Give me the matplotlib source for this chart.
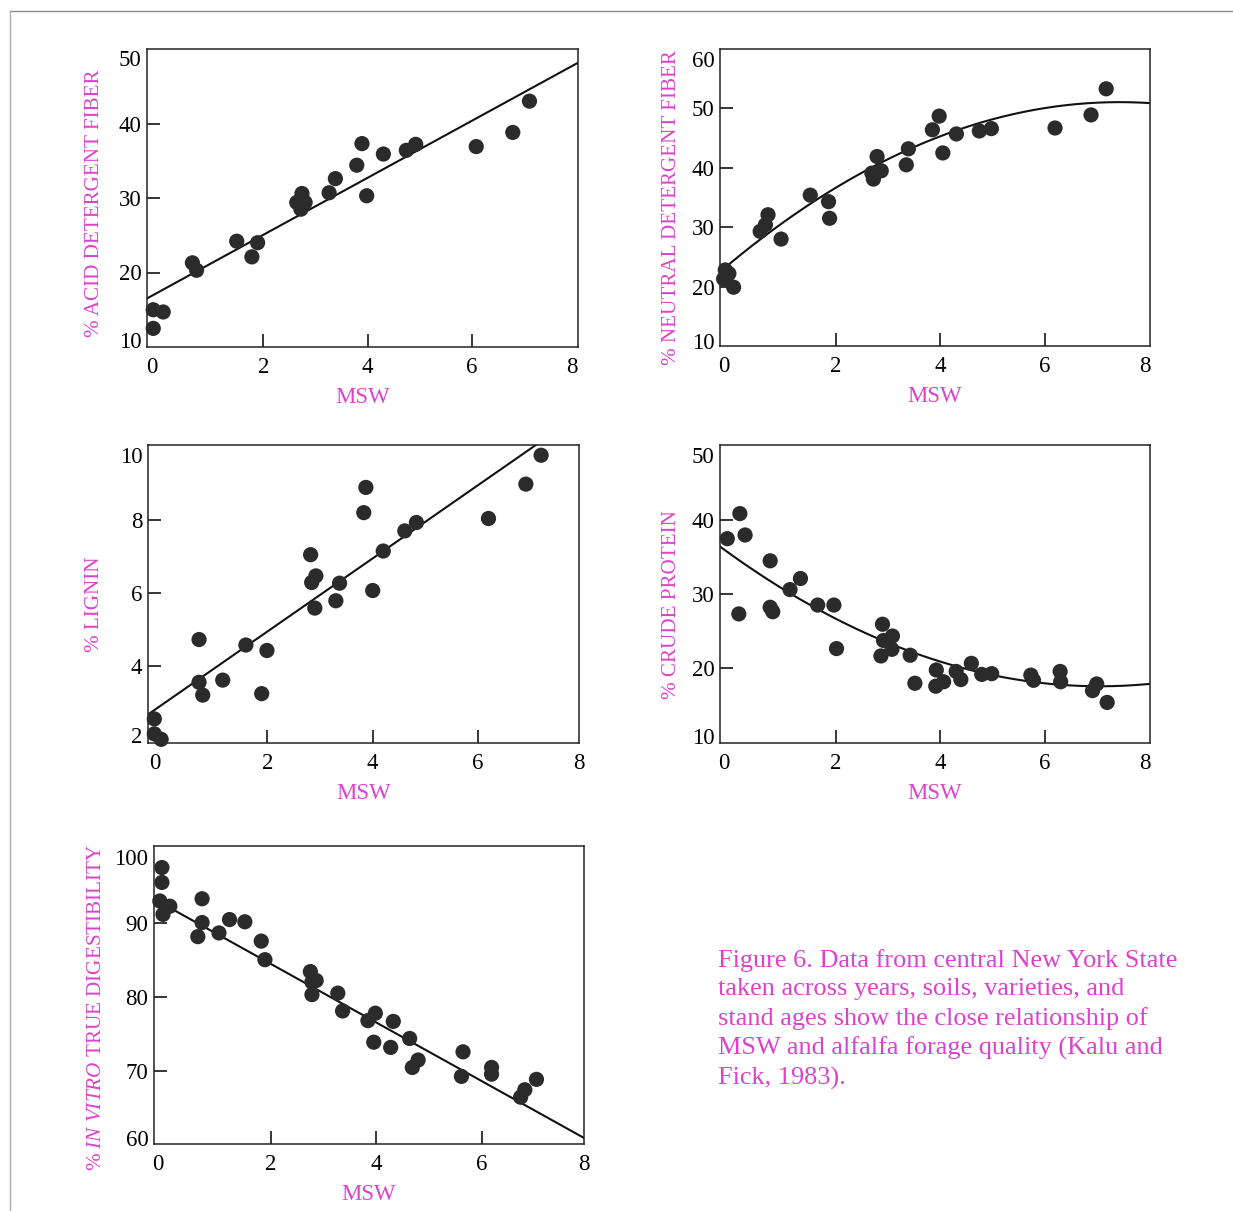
import matplotlib
matplotlib.use("Agg")
import matplotlib.pyplot as plt
import numpy as np
from matplotlib.lines import Line2D

plt.rcParams['font.family'] = ['Liberation Serif', 'DejaVu Serif']
plt.rcParams['mathtext.fontset'] = 'custom'
plt.rcParams['mathtext.rm'] = 'Liberation Serif'
plt.rcParams['mathtext.it'] = 'Liberation Serif:italic'

MAGENTA = '#dc42cc'
DOT = '#2b2b2b'

# ---------------- data ----------------
adf_x = [-0.11, 0.08, -0.11, 0.64, 0.72, 1.49, 1.78, 1.89, 2.64, 2.74, 2.80, 2.72,
         3.26, 3.38, 3.79, 3.89, 3.98, 4.30, 4.74, 4.92, 6.08, 6.78, 7.10]
adf_y = [15.0, 14.7, 12.5, 21.3, 20.3, 24.2, 22.1, 24.0, 29.4, 30.6, 29.4, 28.5,
         30.7, 32.6, 34.4, 37.3, 30.3, 35.9, 36.4, 37.2, 36.9, 38.8, 43.0]
adf_fit = [17.4, 3.83]            # intercept, slope

ndf_x = [-0.12, -0.05, -0.15, 0.04, 0.55, 0.65, 0.70, 0.95, 1.51, 1.86, 1.88, 2.69,
         2.72, 2.79, 2.87, 3.35, 3.39, 3.85, 3.98, 4.05, 4.31, 4.75, 4.98, 6.20, 6.89, 7.18]
ndf_y = [22.8, 22.2, 21.3, 19.9, 29.3, 30.4, 32.1, 28.0, 35.4, 34.3, 31.5, 39.1,
         38.1, 41.9, 39.5, 40.5, 43.2, 46.4, 48.7, 42.5, 45.7, 46.2, 46.6, 46.7, 48.9, 53.3]
ndf_fit = [24.1, 7.25, -0.4875]   # a + b x + c x^2

lig_x = [-0.15, -0.15, -0.02, 0.70, 0.70, 0.77, 1.15, 1.59, 1.89, 1.99, 2.82, 2.84,
         2.92, 2.90, 3.30, 3.37, 3.83, 3.87, 4.00, 4.20, 4.61, 4.83, 6.20, 6.91, 7.20]
lig_y = [2.56, 2.15, 2.00, 4.73, 3.56, 3.21, 3.62, 4.58, 3.25, 4.43, 7.05, 6.29,
         6.47, 5.59, 5.79, 6.27, 8.20, 8.89, 6.07, 7.15, 7.70, 7.93, 8.04, 8.98, 9.77]
lig_fit = [2.95, 1.0]

cp_x = [-0.08, 0.16, 0.26, 0.14, 0.74, 0.74, 0.79, 1.12, 1.32, 1.65, 1.96, 2.01,
        2.89, 2.91, 3.08, 3.07, 2.86, 3.42, 3.51, 3.92, 3.91, 4.06, 4.30, 4.39,
        4.59, 4.79, 4.98, 5.73, 5.78, 6.29, 6.30, 6.91, 6.99, 7.19]
cp_y = [37.5, 40.9, 38.0, 27.3, 34.5, 28.2, 27.6, 30.6, 32.1, 28.5, 28.5, 22.6,
        25.9, 23.7, 24.3, 22.5, 21.6, 21.7, 17.9, 19.7, 17.5, 18.1, 19.5, 18.4,
        20.6, 19.1, 19.2, 19.0, 18.3, 19.5, 18.1, 16.9, 17.8, 15.3]
cp_fit = [35.3, -5.05, 0.358]

iv_x = [-0.06, -0.06, -0.10, 0.09, -0.04, 0.70, 0.70, 0.62, 1.02, 1.22, 1.51, 1.82,
        1.89, 2.75, 2.78, 2.86, 2.78, 3.27, 3.36, 3.84, 3.98, 3.95, 4.32, 4.27,
        4.63, 4.68, 4.79, 5.64, 5.61, 6.18, 6.18, 6.81, 6.73, 7.03]
iv_y = [97.4, 95.4, 92.9, 92.2, 91.1, 93.2, 90.0, 88.1, 88.6, 90.4, 90.1, 87.5,
        85.0, 83.4, 82.0, 82.2, 80.3, 80.5, 78.1, 76.8, 77.8, 73.9, 76.7, 73.2,
        74.4, 70.5, 71.5, 72.6, 69.3, 70.5, 69.6, 67.5, 66.5, 68.9]
iv_fit = [92.34, -3.95]

x_labels = ['0', '2', '4', '6', '8']

W, H = 1233, 1211
fig = plt.figure(figsize=(W / 100, H / 100), dpi=100)
fig.patch.set_facecolor('white')

# page border (scan frame)
fig.add_artist(Line2D([10 / W, 1.0], [1 - 11 / H, 1 - 11 / H], color='#8a8a8a', lw=1.0))
fig.add_artist(Line2D([10 / W, 10 / W], [1 - 11 / H, 0.0], color='#b0b0b0', lw=1.0))


def make_ax(l, r, t, b):
    ax = fig.add_axes([l / W, 1 - b / H, (r - l) / W, (b - t) / H])
    ax._hpx = b - t
    return ax


def style(ax, xlim, ylim, yticks, top_shift=10, bot_shift=6):
    ax.set_xlim(*xlim)
    ax.set_ylim(*ylim)
    # inner ticks with marks, edge labels without marks (set slightly inside)
    ax.set_xticks([2, 4, 6])
    ax.set_xticklabels(x_labels[1:4])
    ax.set_xticks([-0.14, 7.92], minor=True)
    ax.set_xticklabels([x_labels[0], x_labels[-1]], minor=True)
    upp = (ylim[1] - ylim[0]) / ax._hpx
    ax.set_yticks(yticks[1:-1])
    ax.set_yticklabels([str(v) for v in yticks[1:-1]])
    ax.set_yticks([ylim[0] + bot_shift * upp, ylim[1] - top_shift * upp], minor=True)
    ax.set_yticklabels([str(yticks[0]), str(yticks[-1])], minor=True)
    ax.tick_params(axis='both', which='major', direction='in', length=9.5, width=1.1,
                   labelsize=16.5, colors='black')
    ax.tick_params(axis='both', which='minor', length=0, labelsize=16.5)
    ax.tick_params(axis='x', which='both', pad=7)
    ax.tick_params(axis='y', which='both', pad=4)
    for s in ax.spines.values():
        s.set_linewidth(1.1)
        s.set_color('#222222')
    ax.set_xlabel('MSW', color=MAGENTA, fontsize=16.5, labelpad=7)


def draw(ax, xs, ys, coef, xlim):
    xx = np.linspace(xlim[0], xlim[1], 200)
    yy = np.polyval(coef[::-1], xx)
    ax.plot(xx, yy, color='#111111', lw=1.5, zorder=2, clip_on=True)
    ax.scatter(xs, ys, s=120, color=DOT, zorder=3, edgecolors='none', clip_on=False)


# panel 1 - ADF
xl1 = (-0.23, 8.03)
ax1 = make_ax(147, 578, 49, 347)
style(ax1, xl1, (10, 50), [10, 20, 30, 40, 50], top_shift=9, bot_shift=7)
draw(ax1, adf_x, adf_y, adf_fit, xl1)

# panel 2 - NDF
xl2 = (-0.22, 8.02)
ax2 = make_ax(720, 1150, 49, 346)
style(ax2, xl2, (10, 60), [10, 20, 30, 40, 50, 60], top_shift=10, bot_shift=5)
draw(ax2, ndf_x, ndf_y, ndf_fit, xl2)

# panel 3 - lignin
xl3 = (-0.27, 7.9)
ax3 = make_ax(148, 579, 445, 743)
style(ax3, xl3, (1.9, 10.05), [2, 4, 6, 8, 10], top_shift=10, bot_shift=8)
draw(ax3, lig_x, lig_y, lig_fit, xl3)

# panel 4 - crude protein
xl4 = (-0.22, 8.01)
ax4 = make_ax(720, 1150, 445, 743)
style(ax4, xl4, (9.8, 50.2), [10, 20, 30, 40, 50], top_shift=10, bot_shift=7)
draw(ax4, cp_x, cp_y, cp_fit, xl4)

# panel 5 - IVTD
xl5 = (-0.21, 7.93)
ax5 = make_ax(154, 584, 846, 1144)
style(ax5, xl5, (60.2, 100.3), [60, 70, 80, 90, 100], top_shift=11, bot_shift=6)
draw(ax5, iv_x, iv_y, iv_fit, xl5)

# y labels
ylab = dict(color=MAGENTA, fontsize=15.2, rotation=90, ha='center', va='center')
fig.text(95 / W, 1 - 203 / H, '% ACID DETERGENT FIBER', **ylab)
fig.text(672 / W, 1 - 208 / H, '% NEUTRAL DETERGENT FIBER', **ylab)
fig.text(95 / W, 1 - 604 / H, '% LIGNIN', **ylab)
fig.text(672 / W, 1 - 605 / H, '% CRUDE PROTEIN', **ylab)
fig.text(97 / W, 1 - 1007 / H, r'% $\mathit{IN\ VITRO}$ TRUE DIGESTIBILITY', **ylab)

# caption
caption = ("Figure 6. Data from central New York State\n"
           "taken across years, soils, varieties, and\n"
           "stand ages show the close relationship of\n"
           "MSW and alfalfa forage quality (Kalu and\n"
           "Fick, 1983).")
fig.text(718 / W, 1 - 949 / H, caption, color=MAGENTA, fontsize=18.9, ha='left', va='top',
         linespacing=1.375)

fig.savefig('out.png', dpi=100, facecolor='white')
